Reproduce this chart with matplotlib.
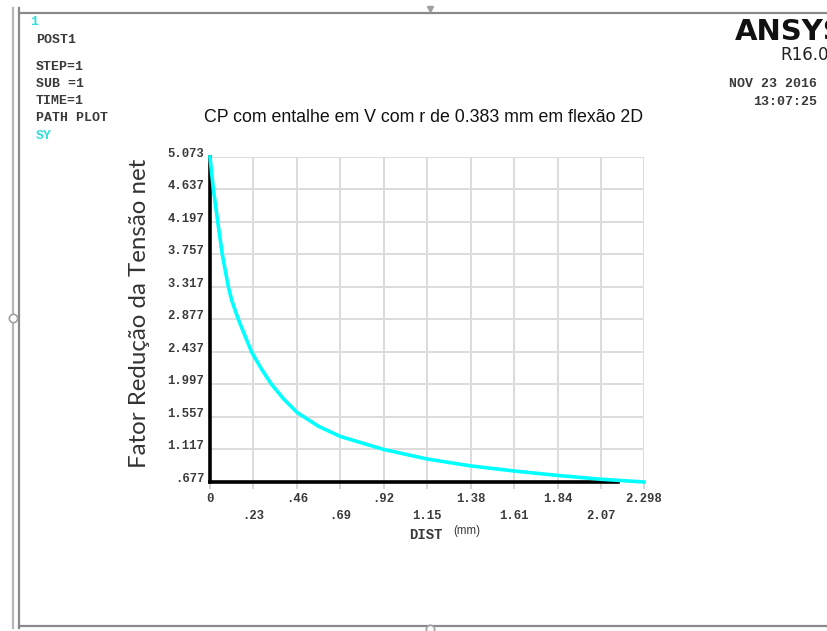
import numpy as np
import matplotlib
matplotlib.use("Agg")
import matplotlib.pyplot as plt
from matplotlib.lines import Line2D

# path plot SY
dist = [0.0, 0.009, 0.018, 0.041, 0.065, 0.097, 0.115, 0.150, 0.220, 0.270, 0.326,
        0.390, 0.460, 0.575, 0.690, 0.920, 1.150, 1.380, 1.610, 1.840, 2.070, 2.298]
sy = [5.073, 4.850, 4.637, 4.197, 3.757, 3.317, 3.135, 2.877, 2.437, 2.216, 1.997,
      1.800, 1.620, 1.430, 1.293, 1.117, 0.988, 0.895, 0.826, 0.766, 0.714, 0.677]

xticks = [0, .23, .46, .69, .92, 1.15, 1.38, 1.61, 1.84, 2.07, 2.298]
xlabels = ["0", ".23", ".46", ".69", ".92", "1.15", "1.38", "1.61", "1.84", "2.07", "2.298"]
yticks = [.677, 1.117, 1.557, 1.997, 2.437, 2.877, 3.317, 3.757, 4.197, 4.637, 5.073]
ylabels = [".677", "1.117", "1.557", "1.997", "2.437", "2.877", "3.317", "3.757",
           "4.197", "4.637", "5.073"]

W, H = 827, 631
fig = plt.figure(figsize=(W / 100, H / 100), dpi=100)

def fx(px): return px / W
def fy(py): return 1 - py / H

MONO = "Liberation Mono"
TXT = "#3a3a3a"

# window frame
for x0, c in [(13, "#b8b8b8"), (19, "#8a8a8a")]:
    fig.add_artist(Line2D([fx(x0), fx(x0)], [fy(8), fy(628)], color=c, lw=1.6))
fig.add_artist(Line2D([fx(19), 1], [fy(13), fy(13)], color="#8a8a8a", lw=1.6))
fig.add_artist(Line2D([fx(19), 1], [fy(626), fy(626)], color="#8a8a8a", lw=1.6))
fig.add_artist(Line2D([fx(13)], [fy(318)], marker="o", ms=6, mfc="white",
                      mec="#a0a0a0", mew=1.2))
fig.add_artist(Line2D([fx(430)], [fy(629)], marker="o", ms=6, mfc="white",
                      mec="#a0a0a0", mew=1.2))
fig.add_artist(Line2D([fx(430)], [fy(9)], marker="v", ms=5, color="#a0a0a0"))

ax = fig.add_axes([fx(210), fy(482), fx(644) - fx(210), fy(157) - fy(482)])
ax.plot(dist, sy, color="#00ffff", lw=2.6, zorder=5, clip_on=False,
        solid_joinstyle="round")
ax.set_xlim(0, 2.298)
ax.set_ylim(0.677, 5.073)

ax.set_xticks(xticks)
ax.set_xticklabels([])
ax.set_yticks(yticks)
ax.set_yticklabels(ylabels, family=MONO, fontsize=8.8, fontweight="bold", color=TXT,
                   va="baseline")
ax.tick_params(axis="y", length=0, pad=4)
ax.tick_params(axis="x", length=5, width=1.2, color="#d0d0d0", direction="out")
ax.grid(True, color="#dcdcdc", lw=1.4)
for s in ["top", "right"]:
    ax.spines[s].set_visible(False)
for s in ["left", "bottom"]:
    ax.spines[s].set_color("black")
    ax.spines[s].set_linewidth(2.6)
    ax.spines[s].set_zorder(4)
ax.spines["bottom"].set_bounds(0, 2.16)

# staggered x labels, two rows
for i, (t, lab) in enumerate(zip(xticks, xlabels)):
    off = 17 if i % 2 == 0 else 34
    ax.annotate(lab, (t, 0), xycoords=ax.get_xaxis_transform(),
                xytext=(0, -off * 0.72), textcoords="offset points",
                ha="center", va="center", family=MONO, fontsize=8.8,
                fontweight="bold", color=TXT)

fig.text(fx(426), fy(535), "DIST", family=MONO, fontsize=10, fontweight="bold",
         color=TXT, ha="center", va="center")
fig.text(fx(453), fy(531), "(mm)", family="Liberation Sans", fontsize=8.3,
         color=TXT, ha="left", va="center")

ax.set_ylabel("Fator Redução da Tensão net", family="Lato", fontsize=17.3,
              color="#333333")
ax.yaxis.set_label_coords(-(210 - 150) / (644 - 210), (482 - 313) / (482 - 157))

fig.text(fx(424), fy(117), "CP com entalhe em V com r de 0.383 mm em flexão 2D",
         family="Liberation Sans", fontsize=12.8, color="#111111",
         ha="center", va="center")

# ANSYS header
fig.text(fx(30), fy(22), "1", family=MONO, fontsize=9.5, fontweight="bold",
         color="#33dddd", ha="left", va="center")
for y, s in [(40, "POST1"), (67, "STEP=1"), (84, "SUB =1"), (101, "TIME=1"),
             (118, "PATH PLOT")]:
    fig.text(fx(36), fy(y), s, family=MONO, fontsize=9.5, fontweight="bold",
             color=TXT, ha="left", va="center")
fig.text(fx(36), fy(136), "SY", family=MONO, fontsize=9.5, fontweight="bold",
         color="#33dddd", ha="left", va="center")

fig.text(fx(735), fy(32), "ANSYS", family="DejaVu Sans", fontsize=21,
         fontweight="bold", color="#111111", ha="left", va="center")
fig.text(fx(780), fy(55), "R16.0", family="DejaVu Sans", fontsize=12,
         color="#222222", ha="left", va="center")
fig.text(fx(817), fy(84), "NOV 23 2016", family=MONO, fontsize=9.5, fontweight="bold",
         color=TXT, ha="right", va="center")
fig.text(fx(817), fy(102), "13:07:25", family=MONO, fontsize=9.5, fontweight="bold",
         color=TXT, ha="right", va="center")

fig.savefig("out.png", dpi=100)
